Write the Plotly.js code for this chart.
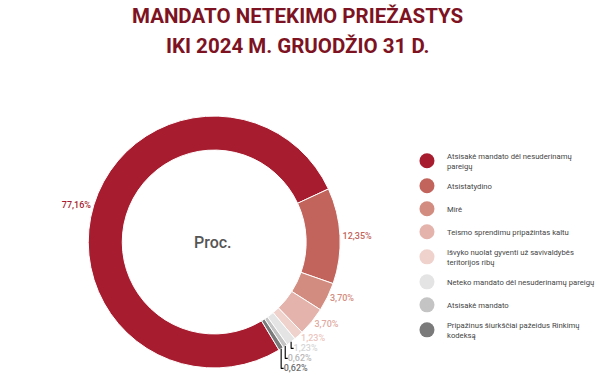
<!DOCTYPE html>
<html>
<head>
<meta charset="utf-8">
<script src="https://cdn.plot.ly/plotly-3.0.1.min.js"></script>
<style>html,body{margin:0;padding:0;background:#fff}#chart{width:600px;height:390px}</style>
</head>
<body>
<div id="chart"></div>
<script>
const titleLines = ["MANDATO NETEKIMO PRIEŽASTYS", "IKI 2024 M. GRUODŽIO 31 D."];
const categories = [
  "Atsisakė mandato dėl nesuderinamų pareigų",
  "Atsistatydino",
  "Mirė",
  "Teismo sprendimu pripažintas kaltu",
  "Išvyko nuolat gyventi už savivaldybės teritorijos ribų",
  "Neteko mandato dėl nesuderinamų pareigų",
  "Atsisakė mandato",
  "Pripažinus šiurkščiai pažeidus Rinkimų kodeksą"
];
const legendLabels = [
  "Atsisakė mandato dėl nesuderinamų<br>pareigų",
  "Atsistatydino",
  "Mirė",
  "Teismo sprendimu pripažintas kaltu",
  "Išvyko nuolat gyventi už savivaldybės<br>teritorijos ribų",
  "Neteko mandato dėl nesuderinamų pareigų",
  "Atsisakė mandato",
  "Pripažinus šiurkščiai pažeidus Rinkimų<br>kodeksą"
];
const values = [77.16, 12.35, 3.70, 3.70, 1.23, 1.23, 0.62, 0.62];
const valueLabels = ["77,16%", "12,35%", "3,70%", "3,70%", "1,23%", "1,23%", "0,62%", "0,62%"];
const colors = ["#a81c2f", "#c2645b", "#d38c80", "#e4b3ab", "#f0d2cd", "#e4e4e4", "#c4c4c4", "#7a7a7a"];
const labelColors = ["#a81c2f", "#c2645b", "#d38c80", "#e0aaa2", "#ecc6c0", "#d6d6d6", "#b8b8b8", "#6e6e6e"];

const traces = [{
  type: "pie",
  labels: categories,
  values: values,
  text: valueLabels,
  textinfo: "text",
  textposition: "outside",
  sort: false,
  direction: "clockwise",
  rotation: 149,
  hole: 0.73,
  showlegend: false,
  marker: {colors: colors, line: {color: "#ffffff", width: 1}},
  outsidetextfont: {family: "Roboto", size: 9, color: labelColors, weight: 500},
  domain: {x: [0.1483, 0.5717], y: [0.0538, 0.7051]},
  hoverinfo: "label+text"
}];
legendLabels.forEach((name, i) => {
  traces.push({
    type: "scatter", mode: "markers", x: [null], y: [null],
    name: name, legendgroup: "g" + i,
    marker: {symbol: "circle", size: 15, color: colors[i]},
    hoverinfo: "skip"
  });
});

const layout = {
  width: 600, height: 390,
  margin: {l: 0, r: 0, t: 0, b: 0},
  paper_bgcolor: "#ffffff", plot_bgcolor: "#ffffff",
  font: {family: "Roboto", color: "#444"},
  xaxis: {visible: false, domain: [0.9, 1]},
  yaxis: {visible: false, domain: [0.9, 1]},
  showlegend: true,
  legend: {
    x: 0.684, xanchor: "left", y: 0.63, yanchor: "top",
    font: {family: "Roboto", size: 7.7, color: "#444"},
    itemwidth: 30, tracegroupgap: 4, bgcolor: "rgba(0,0,0,0)"
  },
  annotations: [
    {text: titleLines[0], showarrow: false, xref: "paper", yref: "paper",
     x: 0.5, y: 1 - 16 / 390, xanchor: "center", yanchor: "middle",
     font: {family: "Roboto", size: 20.5, color: "#7d1322", weight: "bold"}},
    {text: titleLines[1], showarrow: false, xref: "paper", yref: "paper",
     x: 0.5, y: 1 - 46 / 390, xanchor: "center", yanchor: "middle",
     font: {family: "Roboto", size: 20.5, color: "#7d1322", weight: "bold"}},
    {text: "Proc.", showarrow: false, xref: "paper", yref: "paper",
     x: 0.358, y: 0.377, xanchor: "center", yanchor: "middle",
     font: {family: "Roboto", size: 16, color: "#555", weight: 500}}
  ]
};
Plotly.newPlot("chart", traces, layout, {displayModeBar: false, staticPlot: true});
</script>
</body>
</html>
